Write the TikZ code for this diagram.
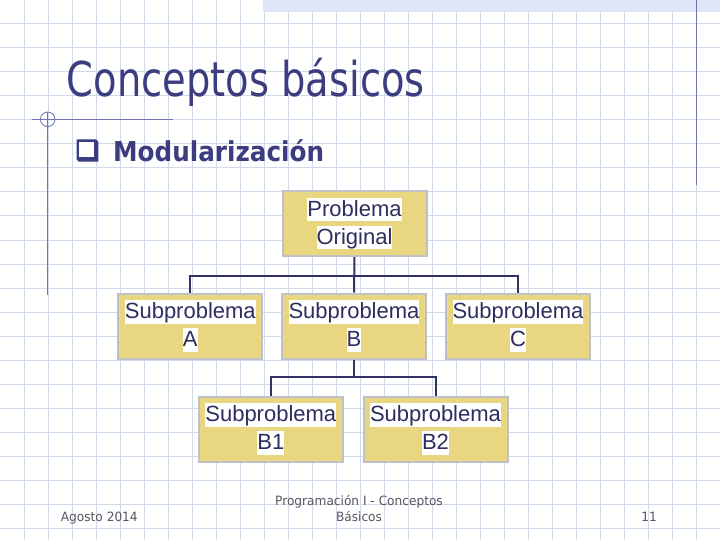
\documentclass[tikz,border=0pt]{standalone}
\usepackage{fontspec}
\setmainfont{DejaVu Sans}
\newfontfamily\titlefont[FakeStretch=0.8]{DejaVu Sans}
\newfontfamily\headfont[FakeStretch=0.9]{DejaVu Sans}
\newfontfamily\footfont[FakeStretch=0.95]{DejaVu Sans}
\newfontfamily\boxfont{Liberation Sans}
\definecolor{slideblue}{RGB}{60,60,128}
\definecolor{gridblue}{RGB}{208,218,232}
\definecolor{ruleblue}{RGB}{110,115,175}
\definecolor{bandblue}{RGB}{224,230,248}
\definecolor{boxyellow}{RGB}{232,214,128}
\definecolor{boxgray}{RGB}{192,192,200}
\definecolor{boxtext}{RGB}{45,45,95}
\definecolor{linenavy}{RGB}{50,50,100}
\definecolor{footgray}{RGB}{85,85,95}
% white strip behind each line of a box
\newcommand{\whiteline}[1]{{\setlength{\fboxsep}{0pt}\colorbox{white}{\rule[-5pt]{0pt}{23.4pt}#1}}}
\begin{document}
\begin{tikzpicture}[
    x			= 1pt,
    y			= -1pt,
    gridline/.style	= {draw=gridblue, line width=1pt},
    rule/.style		= {draw=ruleblue, line width=1pt},
    probbox/.style	= {draw=boxgray, line width=2pt, fill=boxyellow, minimum width=144pt, minimum height=65pt, inner sep=0pt, align=center, text=boxtext, font=\boxfont\fontsize{22}{27.7}\selectfont},
    conn/.style		= {draw=linenavy, line width=2pt},
    footer/.style	= {inner sep=0pt, text=footgray, font=\footfont\fontsize{12.8}{16}\selectfont}
  ]
\useasboundingbox[fill=white] (0,0) rectangle (720,540);
% grid paper
\foreach \i in {1,...,29} \draw[gridline] (\i*24,0) -- (\i*24,540);
\foreach \j in {1,...,22} \draw[gridline] (0,\j*24) -- (720,\j*24);
% top band and margin rules
\fill[bandblue] (263.3,0) rectangle (720,11.7);
\draw[rule] (696,0) -- (696,185);
\draw[rule] (31.7,119.3) -- (173.3,119.3);
\draw[rule] (47.7,111.7) -- (47.7,295);
\draw[rule, line width=0.8pt] (47.7,119.3) circle [radius=7.3];
% title
\node[anchor=base west, inner sep=0pt, text=slideblue, font=\titlefont\fontsize{48}{48}\selectfont] (title) at (66.7,96.7) {Conceptos básicos};
% bullet
\fill[slideblue] (76.7,139.3) -- (96,139.3) -- (98.3,141.6) -- (98.3,161.7) -- (78.9,161.7) -- (76.7,159.5) -- cycle;
\fill[white] (79.3,141.7) rectangle (94,157.3);
\node[anchor=base west, inner sep=0pt, text=slideblue, font=\headfont\bfseries\fontsize{27.4}{30}\selectfont] (topic) at (113,161.7) {Modularización};
% boxes
\node[probbox] (orig) at (354.5,223.5) {\whiteline{Problema}\\\whiteline{Original}};
\node[probbox] (subA) at (190.3,326) {\whiteline{Subproblema}\\\whiteline{A}};
\node[probbox] (subB) at (354,326) {\whiteline{Subproblema}\\\whiteline{B}};
\node[probbox] (subC) at (518,326) {\whiteline{Subproblema}\\\whiteline{C}};
\node[probbox] (subB1) at (270.8,429) {\whiteline{Subproblema}\\\whiteline{B1}};
\node[probbox] (subB2) at (435.5,429) {\whiteline{Subproblema}\\\whiteline{B2}};
% connectors
\coordinate (barA) at (354,275.7);
\coordinate (barB) at (354,377.3);
\draw[conn] (orig.south) -- (subB.north);
\draw[conn] (subA.north) |- (barA) -| (subC.north);
\draw[conn] (subB.south) -- (barB);
\draw[conn] (subB1.north) |- (barB) -| (subB2.north);
% footer
\node[footer, anchor=base west] (date) at (60.7,521) {Agosto 2014};
\node[footer, anchor=base, align=center] (course) at (359,521) {Programación I - Conceptos\\Básicos};
\node[footer, anchor=base east] (pagenum) at (657,521) {11};
%
\end{tikzpicture}
\end{document}
